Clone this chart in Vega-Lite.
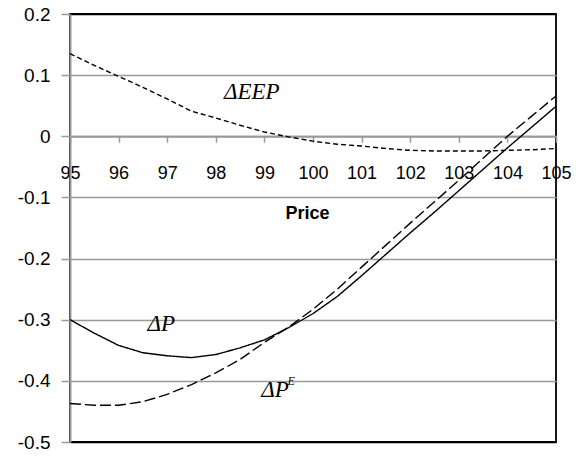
{
  "$schema": "https://vega.github.io/schema/vega-lite/v6.json",
  "width": 486,
  "height": 428,
  "autosize": {"type": "none"},
  "padding": {"left": 70, "top": 14, "right": 30, "bottom": 17},
  "background": "white",
  "config": {
    "view": {"stroke": "#000000", "strokeWidth": 1.8},
    "axis": {"labelFont": "Liberation Sans", "titleFont": "Liberation Sans", "labelColor": "#000000", "titleColor": "#000000"}
  },
  "datasets": {
    "series": [
      {"price": 95, "series": "dP", "value": -0.300},
      {"price": 95.5, "series": "dP", "value": -0.322},
      {"price": 96, "series": "dP", "value": -0.342},
      {"price": 96.5, "series": "dP", "value": -0.354},
      {"price": 97, "series": "dP", "value": -0.359},
      {"price": 97.5, "series": "dP", "value": -0.362},
      {"price": 98, "series": "dP", "value": -0.357},
      {"price": 98.5, "series": "dP", "value": -0.346},
      {"price": 99, "series": "dP", "value": -0.333},
      {"price": 99.5, "series": "dP", "value": -0.313},
      {"price": 100, "series": "dP", "value": -0.290},
      {"price": 100.5, "series": "dP", "value": -0.262},
      {"price": 101, "series": "dP", "value": -0.228},
      {"price": 101.5, "series": "dP", "value": -0.193},
      {"price": 102, "series": "dP", "value": -0.158},
      {"price": 102.5, "series": "dP", "value": -0.124},
      {"price": 103, "series": "dP", "value": -0.089},
      {"price": 103.5, "series": "dP", "value": -0.054},
      {"price": 104, "series": "dP", "value": -0.019},
      {"price": 104.5, "series": "dP", "value": 0.015},
      {"price": 105, "series": "dP", "value": 0.049},
      {"price": 95, "series": "dPE", "value": -0.437},
      {"price": 95.5, "series": "dPE", "value": -0.440},
      {"price": 96, "series": "dPE", "value": -0.440},
      {"price": 96.5, "series": "dPE", "value": -0.434},
      {"price": 97, "series": "dPE", "value": -0.422},
      {"price": 97.5, "series": "dPE", "value": -0.406},
      {"price": 98, "series": "dPE", "value": -0.387},
      {"price": 98.5, "series": "dPE", "value": -0.365},
      {"price": 99, "series": "dPE", "value": -0.337},
      {"price": 99.5, "series": "dPE", "value": -0.312},
      {"price": 100, "series": "dPE", "value": -0.283},
      {"price": 100.5, "series": "dPE", "value": -0.250},
      {"price": 101, "series": "dPE", "value": -0.214},
      {"price": 101.5, "series": "dPE", "value": -0.178},
      {"price": 102, "series": "dPE", "value": -0.142},
      {"price": 102.5, "series": "dPE", "value": -0.107},
      {"price": 103, "series": "dPE", "value": -0.072},
      {"price": 103.5, "series": "dPE", "value": -0.036},
      {"price": 104, "series": "dPE", "value": 0.000},
      {"price": 104.5, "series": "dPE", "value": 0.033},
      {"price": 105, "series": "dPE", "value": 0.066},
      {"price": 95, "series": "dEEP", "value": 0.135},
      {"price": 95.5, "series": "dEEP", "value": 0.116},
      {"price": 96, "series": "dEEP", "value": 0.098},
      {"price": 96.5, "series": "dEEP", "value": 0.080},
      {"price": 97, "series": "dEEP", "value": 0.061},
      {"price": 97.5, "series": "dEEP", "value": 0.041},
      {"price": 98, "series": "dEEP", "value": 0.030},
      {"price": 98.5, "series": "dEEP", "value": 0.018},
      {"price": 99, "series": "dEEP", "value": 0.007},
      {"price": 99.5, "series": "dEEP", "value": -0.001},
      {"price": 100, "series": "dEEP", "value": -0.008},
      {"price": 100.5, "series": "dEEP", "value": -0.013},
      {"price": 101, "series": "dEEP", "value": -0.016},
      {"price": 101.5, "series": "dEEP", "value": -0.020},
      {"price": 102, "series": "dEEP", "value": -0.023},
      {"price": 102.5, "series": "dEEP", "value": -0.024},
      {"price": 103, "series": "dEEP", "value": -0.024},
      {"price": 103.5, "series": "dEEP", "value": -0.024},
      {"price": 104, "series": "dEEP", "value": -0.023},
      {"price": 104.5, "series": "dEEP", "value": -0.022},
      {"price": 105, "series": "dEEP", "value": -0.020}
    ],
    "labels": [
      {"price": 98.74, "value": 0.072, "text": "ΔEEP"},
      {"price": 96.88, "value": -0.307, "text": "ΔP"},
      {"price": 99.22, "value": -0.415, "text": "ΔP"}
    ],
    "superscripts": [
      {"price": 99.55, "value": -0.401, "text": "E"}
    ]
  },
  "layer": [
    {
      "data": {"name": "series"},
      "mark": {"type": "line", "color": "#000000", "strokeWidth": 1.4},
      "encoding": {
        "x": {
          "field": "price", "type": "quantitative",
          "scale": {"domain": [95, 105], "nice": false, "zero": false},
          "axis": {
            "title": "Price",
            "values": [95, 96, 97, 98, 99, 100, 101, 102, 103, 104, 105],
            "offset": -305.71,
            "grid": false,
            "domainColor": "#999999",
            "domainWidth": 2,
            "tickColor": "#999999",
            "tickWidth": 1.5,
            "tickSize": 6,
            "labelFontSize": 18,
            "labelPadding": 22,
            "labelFlush": false,
            "labelOverlap": false,
            "titleFontSize": 18,
            "titleFontWeight": "bold",
            "titleX": 237,
            "titleY": 77,
            "titleBaseline": "middle",
            "titleAlign": "center"
          }
        },
        "y": {
          "field": "value", "type": "quantitative",
          "scale": {"domain": [-0.5, 0.2], "nice": false, "zero": false},
          "axis": {
            "title": null,
            "values": [-0.5, -0.4, -0.3, -0.2, -0.1, 0, 0.1, 0.2],
            "labelExpr": "'' + datum.value",
            "grid": true,
            "gridColor": {"condition": {"test": "datum.value == 0.2 || datum.value == -0.5", "value": "#000000"}, "value": "#999999"},
            "gridWidth": 1.5,
            "domainColor": "#999999",
            "domainWidth": 2,
            "tickColor": "#999999",
            "tickWidth": 1.5,
            "tickSize": 9,
            "labelFontSize": 19,
            "labelPadding": 11,
            "labelFlush": false,
            "labelOverlap": false
          }
        },
        "detail": {"field": "series"},
        "strokeDash": {
          "field": "series", "type": "nominal",
          "scale": {"domain": ["dP", "dPE", "dEEP"], "range": [[1, 0], [11, 4], [5, 3]]},
          "legend": null
        }
      }
    },
    {
      "data": {"name": "labels"},
      "mark": {"type": "text", "font": "Liberation Serif", "fontStyle": "italic", "fontSize": 23, "align": "center", "baseline": "middle", "color": "#000000"},
      "encoding": {
        "x": {"field": "price", "type": "quantitative"},
        "y": {"field": "value", "type": "quantitative"},
        "text": {"field": "text"}
      }
    },
    {
      "data": {"name": "superscripts"},
      "mark": {"type": "text", "font": "Liberation Serif", "fontStyle": "italic", "fontSize": 12, "align": "center", "baseline": "middle", "color": "#000000"},
      "encoding": {
        "x": {"field": "price", "type": "quantitative"},
        "y": {"field": "value", "type": "quantitative"},
        "text": {"field": "text"}
      }
    }
  ]
}
